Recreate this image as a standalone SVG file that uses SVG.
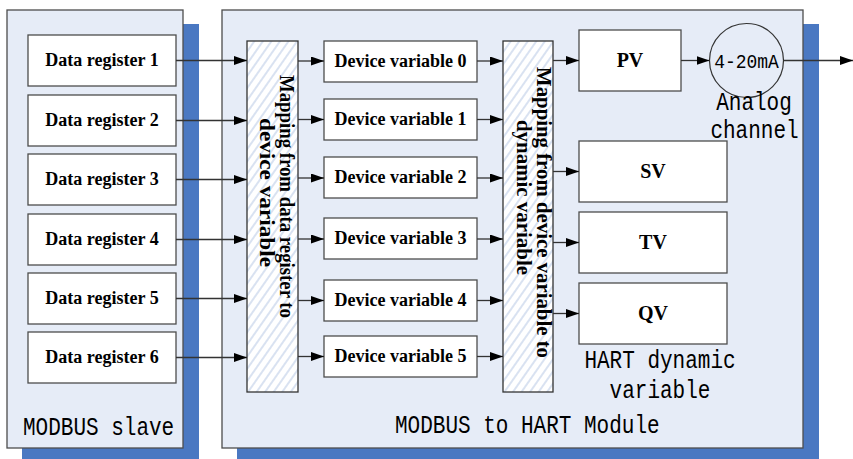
<svg xmlns="http://www.w3.org/2000/svg" width="853" height="459" viewBox="0 0 853 459">
<defs>
<style>
.shadow{fill:#4a78c2;stroke:none}
.panel{fill:#e6ecf7;stroke:#4d4d4d;stroke-width:1.3}
.box{fill:#ffffff;stroke:#4d4d4d;stroke-width:1.3}
.map{fill:url(#hatch);stroke:#333;stroke-width:1.3}
.lbl{font-family:"Liberation Serif","Times New Roman",serif;font-weight:bold;font-size:18px;fill:#000;text-anchor:middle}
.big{font-size:20px}
.mtx{font-size:20px}
.mono{font-family:"Liberation Mono","Courier New",monospace;font-size:21px;fill:#000}
.conn line{stroke:#333;stroke-width:1.3;marker-end:url(#ah)}
</style>
<pattern id="hatch" patternUnits="userSpaceOnUse" width="7" height="10" patternTransform="rotate(35)">
<rect width="7" height="10" fill="#ffffff"/>
<line x1="1" y1="0" x2="1" y2="10" stroke="#b3c6e4" stroke-width="1"/>
</pattern>
<marker id="ah" markerUnits="userSpaceOnUse" markerWidth="13" markerHeight="9" refX="13" refY="4.5" orient="auto">
<path d="M0,0 L13,4.5 L0,9 z" fill="#000"/>
</marker>
</defs>

<g id="modbus-slave">
<rect class="shadow" x="22" y="24" width="177" height="440"/>
<rect class="panel" x="7" y="10" width="176" height="438"/>
<text class="mono" transform="translate(23,435) scale(1,1.25)">MODBUS slave</text>
</g>

<g id="module">
<rect class="shadow" x="237" y="24" width="582" height="440"/>
<rect class="panel" x="222" y="10" width="581" height="438"/>
<text class="mono" transform="translate(395,433) scale(1,1.25)">MODBUS to HART Module</text>
</g>

<g id="dr1"><rect class="box" x="28" y="35" width="148" height="51"/><text class="lbl" x="102" y="66">Data register 1</text></g>
<g id="dr2"><rect class="box" x="28" y="95" width="148" height="51"/><text class="lbl" x="102" y="126">Data register 2</text></g>
<g id="dr3"><rect class="box" x="28" y="154" width="148" height="51"/><text class="lbl" x="102" y="185">Data register 3</text></g>
<g id="dr4"><rect class="box" x="28" y="214" width="148" height="51"/><text class="lbl" x="102" y="245">Data register 4</text></g>
<g id="dr5"><rect class="box" x="28" y="273" width="148" height="51"/><text class="lbl" x="102" y="304">Data register 5</text></g>
<g id="dr6"><rect class="box" x="28" y="332" width="148" height="51"/><text class="lbl" x="102" y="363">Data register 6</text></g>

<g id="map1">
<rect class="map" x="247" y="41" width="51" height="351"/>
<text class="lbl mtx" transform="translate(280,196.5) rotate(90)" textLength="243" lengthAdjust="spacingAndGlyphs">Mapping from data register to</text>
<text class="lbl mtx" transform="translate(260,192.5) rotate(90)" textLength="149" lengthAdjust="spacingAndGlyphs">device variable</text>
</g>

<g id="dv0"><rect class="box" x="324" y="41" width="153" height="41"/><text class="lbl" x="400.5" y="67">Device variable 0</text></g>
<g id="dv1"><rect class="box" x="324" y="99" width="153" height="41"/><text class="lbl" x="400.5" y="125">Device variable 1</text></g>
<g id="dv2"><rect class="box" x="324" y="157" width="153" height="41"/><text class="lbl" x="400.5" y="183">Device variable 2</text></g>
<g id="dv3"><rect class="box" x="324" y="218" width="153" height="41"/><text class="lbl" x="400.5" y="244">Device variable 3</text></g>
<g id="dv4"><rect class="box" x="324" y="280" width="153" height="41"/><text class="lbl" x="400.5" y="306">Device variable 4</text></g>
<g id="dv5"><rect class="box" x="324" y="336" width="153" height="41"/><text class="lbl" x="400.5" y="362">Device variable 5</text></g>

<g id="map2">
<rect class="map" x="503" y="41" width="50" height="351"/>
<text class="lbl mtx" transform="translate(537,212.5) rotate(90)" textLength="291" lengthAdjust="spacingAndGlyphs">Mapping from device variable to</text>
<text class="lbl mtx" transform="translate(517,197.5) rotate(90)" textLength="155" lengthAdjust="spacingAndGlyphs">dynamic variable</text>
</g>

<g id="pv"><rect class="box" x="579" y="30" width="102" height="61"/><text class="lbl big" x="630" y="67">PV</text></g>
<g id="sv"><rect class="box" x="579" y="141" width="148" height="61"/><text class="lbl big" x="653" y="178">SV</text></g>
<g id="tv"><rect class="box" x="579" y="212" width="148" height="61"/><text class="lbl big" x="653" y="249">TV</text></g>
<g id="qv"><rect class="box" x="579" y="283" width="148" height="61"/><text class="lbl big" x="653" y="320">QV</text></g>
<g id="hart-label">
<text class="mono" text-anchor="middle" transform="translate(660,368) scale(1,1.25)">HART dynamic</text>
<text class="mono" text-anchor="middle" transform="translate(660,398) scale(1,1.25)">variable</text>
</g>

<g id="analog">
<circle cx="746.5" cy="60.5" r="37" fill="none" stroke="#333" stroke-width="1.2"/>
<text class="mono" text-anchor="middle" style="font-size:18px" transform="translate(746.5,68) scale(1,1.15)">4-20mA</text>
<text class="mono" text-anchor="middle" transform="translate(754,110) scale(1,1.25)">Analog</text>
<text class="mono" text-anchor="middle" transform="translate(754.5,138) scale(1,1.25)">channel</text>
</g>

<g id="connectors" class="conn">
<line x1="176" y1="60.5" x2="247" y2="60.5"/>
<line x1="176" y1="120.5" x2="247" y2="120.5"/>
<line x1="176" y1="179.5" x2="247" y2="179.5"/>
<line x1="176" y1="239.5" x2="247" y2="239.5"/>
<line x1="176" y1="298.5" x2="247" y2="298.5"/>
<line x1="176" y1="357.5" x2="247" y2="357.5"/>
<line x1="298" y1="61" x2="324" y2="61"/>
<line x1="298" y1="119.5" x2="324" y2="119.5"/>
<line x1="298" y1="178" x2="324" y2="178"/>
<line x1="298" y1="239" x2="324" y2="239"/>
<line x1="298" y1="300.5" x2="324" y2="300.5"/>
<line x1="298" y1="356.5" x2="324" y2="356.5"/>
<line x1="477" y1="61" x2="503" y2="61"/>
<line x1="477" y1="119.5" x2="503" y2="119.5"/>
<line x1="477" y1="178" x2="503" y2="178"/>
<line x1="477" y1="239" x2="503" y2="239"/>
<line x1="477" y1="300.5" x2="503" y2="300.5"/>
<line x1="477" y1="356.5" x2="503" y2="356.5"/>
<line x1="553" y1="60.5" x2="579" y2="60.5"/>
<line x1="553" y1="171.5" x2="579" y2="171.5"/>
<line x1="553" y1="242.5" x2="579" y2="242.5"/>
<line x1="553" y1="313.5" x2="579" y2="313.5"/>
<line x1="681" y1="60.5" x2="709.5" y2="60.5"/>
<line x1="783.5" y1="60.5" x2="853" y2="60.5"/>
</g>
</svg>
